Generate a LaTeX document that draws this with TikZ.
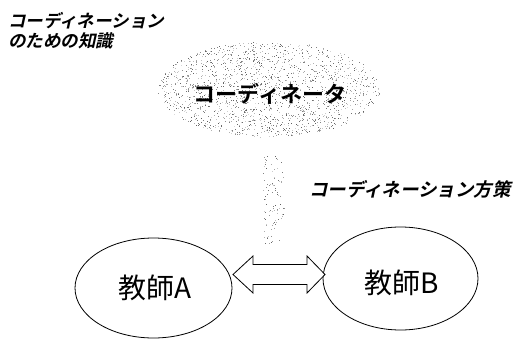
\documentclass[tikz,border=0pt]{standalone}
\usepackage{fontspec}
\newfontfamily\cjk{Noto Sans CJK JP}
\newfontfamily\cjkbi[FakeSlant=0.22]{Noto Sans CJK JP Bold}
\newfontfamily\cjkb{Noto Sans CJK JP Bold}
\usetikzlibrary{shapes.geometric,calc}
\tikzset{
  teacher/.style={ellipse, draw=black, line width=0.8pt, inner sep=0pt},
  tlabel/.style={inner sep=0pt, font=\cjk\fontsize{28}{30}\selectfont},
  note/.style={inner sep=0pt, anchor=west, align=left, font=\cjkbi\fontsize{17.5}{20}\selectfont},
  link/.style={draw=black, line width=0.8pt, fill=white, line join=miter},
}
\begin{document}
\begin{tikzpicture}[x=1pt,y=-1pt]
\useasboundingbox (0,0) rectangle (516,340);
% stippled cloud
\pgfmathsetseed{7}
\foreach \i in {1,...,1700}{
  \pgfmathsetmacro{\ang}{360*rnd}
  \pgfmathsetmacro{\rr}{sqrt(rnd)}
  \pgfmathsetmacro{\g}{int(15+50*rnd)}
  \fill[black!\g] ({269+111*\rr*cos(\ang)},{89+48*\rr*sin(\ang)}) rectangle ++(0.9,0.9);
}
% stippled bar
\foreach \i in {1,...,95}{
  \pgfmathsetmacro{\px}{263+21*rnd}
  \pgfmathsetmacro{\py}{155+88*rnd}
  \pgfmathsetmacro{\g}{int(20+45*rnd)}
  \fill[black!\g] (\px,\py) rectangle ++(0.9,0.9);
}
\node[inner sep=0pt, font=\cjkb\fontsize{22}{24}\selectfont] (coord) at (270,94) {コーディネータ};
\node[note] (know) at (8,31) {コーディネーション\\のための知識};
\node[note, anchor=center, font=\cjkbi\fontsize{18.5}{20}\selectfont] (policy) at (410,189.5) {コーディネーション方策};
\node[teacher, minimum width=157pt, minimum height=100pt] (A) at (153.5,288) {};
\node[teacher, minimum width=155pt, minimum height=103pt] (B) at (400.5,278.5) {};
\node[tlabel] (tA) at (155,287.5) {教師A};
\node[tlabel] (tB) at (402,283) {教師B};
% double arrow between A and B
\coordinate (m) at (279,274.5);
\draw[link] ($(m)+(-46,0)$) -- ++(20,-18.5) -- ++(0,8.5) -- ++(54,0) -- ++(0,-8.5)
  -- ++(18,18.5) -- ++(-18,18.5) -- ++(0,-8.5) -- ++(-54,0) -- ++(0,8.5) -- cycle;
\end{tikzpicture}
\end{document}
